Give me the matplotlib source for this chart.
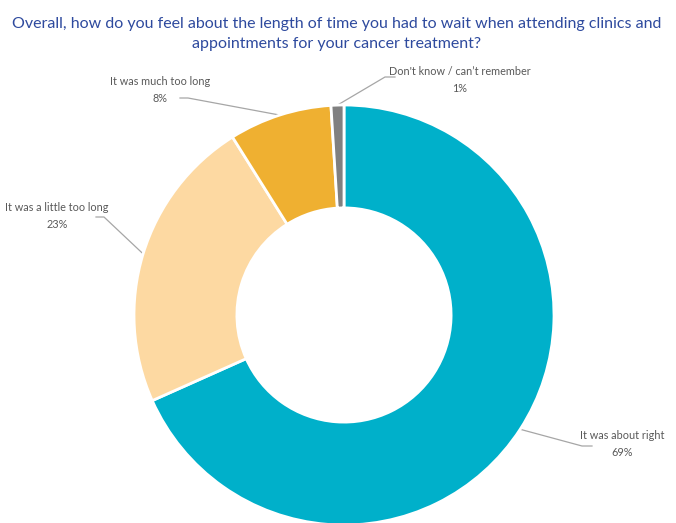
import numpy as np
import matplotlib
matplotlib.use("Agg")
import matplotlib.pyplot as plt

# réponses à la question sur l'attente (en %)
categories = ["It was about right", "It was a little too long",
              "It was much too long", "Don't know / can\u2019t remember"]
valeurs = [69, 23, 8, 1]
couleurs = ["#00B0CA", "#FDD9A2", "#EFB031", "#808080"]

# position des étiquettes (en pixels) et point de cassure du trait
pos_etiq = [(622, 444), (57, 216), (160, 90), (460, 80)]
coude = [(582, 446), (104, 217), (188, 98), (385, 77)]

W, H = 676, 523
fig = plt.figure(figsize=(W / 100, H / 100), dpi=100)
ax = fig.add_axes([0, 0, 1, 1])
ax.set_xlim(0, W)
ax.set_ylim(H, 0)
ax.axis("off")

cx, cy, R = 344, 315, 210

# on dessine le donut dans un repère normal puis on le place au bon endroit
ax2 = fig.add_axes([(cx - R) / W, 1 - (cy + R) / H, 2 * R / W, 2 * R / H])
wedges, _ = ax2.pie(valeurs, colors=couleurs, startangle=90, counterclock=False,
                    radius=1, wedgeprops=dict(width=0.49, edgecolor="white", linewidth=2))
ax2.set_xlim(-1, 1)
ax2.set_ylim(-1, 1)
ax2.axis("off")

total = sum(valeurs)
angle = 90
for i, (cat, v) in enumerate(zip(categories, valeurs)):
    span = v / total * 360
    mid = np.deg2rad(angle - span / 2)
    angle -= span
    px = cx + R * np.cos(mid)
    py = cy - R * np.sin(mid)
    kx, ky = coude[i]
    tx, ty = pos_etiq[i]
    if kx > cx:
        ex = kx + 10
    else:
        ex = kx - 8
    ax.plot([px, kx, ex], [py, ky, ky], color="#A6A6A6", lw=0.9)
    ax.text(tx, ty, f"{cat}\n{v}%", ha="center", va="center", fontsize=7.8,
            family="Lato", color="#595959", linespacing=1.75)

ax.text(W / 2 - 1, 34, "Overall, how do you feel about the length of time you had to wait when attending clinics and\n"
        "appointments for your cancer treatment?", ha="center", va="center",
        fontsize=11.5, family="Lato", color="#2E4A9E", linespacing=1.6)

fig.savefig("out.png", dpi=100)
